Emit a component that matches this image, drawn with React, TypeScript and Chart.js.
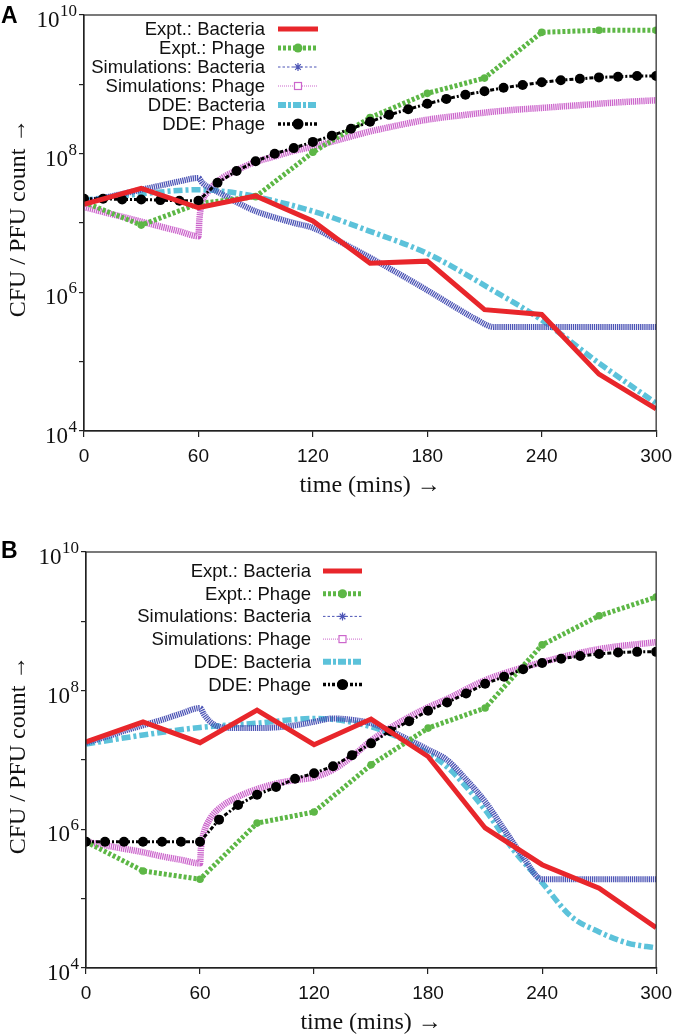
import React, { useEffect, useRef } from 'react';
import { Chart, registerables } from 'chart.js';

Chart.register(...registerables);

// ---------------- data (values are log10 of CFU / PFU count) ----------------
const exptTimes = [0, 30, 60, 90, 120, 150, 180, 210, 240, 270, 300];
const ddePhageTimes = [0, 10, 20, 30, 40, 50, 60, 70, 80, 90, 100, 110, 120, 130, 140, 150, 160, 170, 180, 190, 200, 210, 220, 230, 240, 250, 260, 270, 280, 290, 300];
const xTickValues = [0, 60, 120, 180, 240, 300];
const yTickExponents = [4, 5, 6, 7, 8, 9, 10];
const yLabelExponents = [4, 6, 8, 10];
const seriesLabels = ['Expt.: Bacteria', 'Expt.: Phage', 'Simulations: Bacteria', 'Simulations: Phage', 'DDE: Bacteria', 'DDE: Phage'];
const xTitle = 'time (mins) \u2192';
const yTitle = 'CFU / PFU count \u2192';

// Panel A
const exptBacteriaA = [7.27, 7.5, 7.22, 7.39, 7.03, 6.42, 6.45, 5.75, 5.68, 4.82, 4.32];
const exptPhageA = [7.3, 6.97, 7.28, 7.38, 8.02, 8.52, 8.87, 9.09, 9.75, 9.78, 9.78];
const simBactTimesA = [0, 10, 20, 30, 40, 50, 60, 62, 65, 70, 80, 90, 100, 110, 120, 135, 150, 165, 180, 195, 205, 215, 240, 270, 300];
const simBactA = [7.3, 7.36, 7.42, 7.48, 7.54, 7.6, 7.65, 7.58, 7.52, 7.45, 7.3, 7.17, 7.08, 7.0, 6.93, 6.72, 6.5, 6.27, 6.03, 5.78, 5.62, 5.5, 5.5, 5.5, 5.5];
const simPhageTimesA = [0, 10, 20, 30, 40, 50, 60, 60.5, 62, 65, 70, 80, 90, 100, 110, 120, 135, 150, 165, 180, 200, 220, 240, 260, 280, 300];
const simPhageA = [7.23, 7.16, 7.09, 7.02, 6.95, 6.88, 6.81, 7.05, 7.3, 7.45, 7.6, 7.76, 7.88, 7.96, 8.04, 8.1, 8.21, 8.32, 8.41, 8.49, 8.56, 8.62, 8.66, 8.7, 8.74, 8.77];
const ddeBactTimesA = [0, 30, 60, 75, 90, 120, 150, 180, 210, 240, 270, 300];
const ddeBactA = [7.33, 7.42, 7.48, 7.45, 7.38, 7.17, 6.88, 6.56, 6.1, 5.6, 4.98, 4.4];
const ddePhageA = [7.35, 7.35, 7.34, 7.34, 7.33, 7.32, 7.32, 7.58, 7.75, 7.89, 8.0, 8.08, 8.17, 8.26, 8.36, 8.46, 8.56, 8.64, 8.72, 8.79, 8.85, 8.9, 8.95, 8.99, 9.03, 9.06, 9.08, 9.1, 9.11, 9.12, 9.12];

// Panel B
const exptBacteriaB = [7.26, 7.55, 7.25, 7.72, 7.22, 7.59, 7.05, 6.02, 5.49, 5.15, 4.58];
const exptPhageB = [5.82, 5.4, 5.28, 6.09, 6.25, 6.93, 7.46, 7.75, 8.66, 9.08, 9.35];
const simBactTimesB = [0, 10, 20, 30, 40, 50, 60, 62, 65, 70, 80, 90, 100, 110, 120, 130, 140, 150, 160, 170, 180, 190, 200, 210, 220, 230, 240, 270, 300];
const simBactB = [7.25, 7.33, 7.42, 7.5, 7.58, 7.67, 7.75, 7.66, 7.56, 7.48, 7.46, 7.46, 7.47, 7.5, 7.55, 7.6, 7.58, 7.53, 7.42, 7.29, 7.15, 7.0, 6.72, 6.4, 6.0, 5.6, 5.28, 5.28, 5.28];
const simPhageTimesB = [0, 10, 20, 30, 40, 50, 60, 60.5, 62, 65, 70, 80, 90, 100, 110, 120, 130, 140, 150, 160, 170, 180, 190, 210, 240, 270, 300];
const simPhageB = [5.82, 5.77, 5.72, 5.67, 5.61, 5.56, 5.51, 5.73, 5.95, 6.14, 6.3, 6.47, 6.58, 6.66, 6.71, 6.75, 6.86, 7.05, 7.28, 7.46, 7.62, 7.76, 7.88, 8.15, 8.41, 8.6, 8.7];
const ddeBactTimesB = [0, 30, 60, 90, 120, 150, 170, 190, 210, 225, 240, 255, 270, 285, 300];
const ddeBactB = [7.23, 7.36, 7.47, 7.53, 7.6, 7.48, 7.25, 6.9, 6.28, 5.7, 5.23, 4.75, 4.52, 4.36, 4.29];
const ddePhageB = [5.82, 5.82, 5.82, 5.82, 5.82, 5.82, 5.82, 6.14, 6.35, 6.5, 6.61, 6.73, 6.81, 6.91, 7.07, 7.24, 7.42, 7.56, 7.71, 7.83, 7.96, 8.1, 8.2, 8.31, 8.4, 8.46, 8.5, 8.53, 8.55, 8.56, 8.56];

// ---------------- styles ----------------
const RED = '#e8262b';
const GREEN = '#5db746';
const BLUE = '#4d55b6';
const MAGENTA = '#cc66cc';
const CYAN = '#5cc2da';
const BLACK = '#000000';
const AXIS = '#222222';
const SANS = '"Liberation Sans", Arial, Helvetica, sans-serif';
const SERIF = '"Liberation Serif", "Times New Roman", serif';

type PanelSpec = {
  letter: string;
  canvasH: number;
  top: number;
  left: number;
  right: number;
  xAxisH: number;
  legendRight: number;
  legendY0: number;
  legendDY: number;
  sampleX1: number;
  sampleX2: number;
  letterY: number;
  series: { times: number[]; logs: number[] }[];
};

const panelA: PanelSpec = {
  letter: 'A', canvasH: 518, top: 15, left: 84, right: 19, xAxisH: 87,
  legendRight: 265, legendY0: 29, legendDY: 19, sampleX1: 278, sampleX2: 318, letterY: 23,
  series: [
    { times: exptTimes, logs: exptBacteriaA },
    { times: exptTimes, logs: exptPhageA },
    { times: simBactTimesA, logs: simBactA },
    { times: simPhageTimesA, logs: simPhageA },
    { times: ddeBactTimesA, logs: ddeBactA },
    { times: ddePhageTimes, logs: ddePhageA },
  ],
};

const panelB: PanelSpec = {
  letter: 'B', canvasH: 518, top: 34, left: 86, right: 17, xAxisH: 68,
  legendRight: 311, legendY0: 53, legendDY: 22.7, sampleX1: 323, sampleX2: 362, letterY: 40,
  series: [
    { times: exptTimes, logs: exptBacteriaB },
    { times: exptTimes, logs: exptPhageB },
    { times: simBactTimesB, logs: simBactB },
    { times: simPhageTimesB, logs: simPhageB },
    { times: ddeBactTimesB, logs: ddeBactB },
    { times: ddePhageTimes, logs: ddePhageB },
  ],
};

function toPoints(times: number[], logs: number[]) {
  return times.map((t, i) => ({ x: t, y: Math.pow(10, logs[i]) }));
}

const datasetStyles: any[] = [
  { borderColor: RED, backgroundColor: RED, borderWidth: 5, pointRadius: 0, tension: 0, order: 0 },
  { borderColor: GREEN, backgroundColor: GREEN, borderWidth: 5, borderDash: [3, 2], pointRadius: 3.8, pointStyle: 'circle', pointBorderWidth: 0, tension: 0, order: 2 },
  { borderColor: BLUE, backgroundColor: BLUE, borderWidth: 6, borderDash: [1.3, 0.8], pointRadius: 0, cubicInterpolationMode: 'monotone', order: 3 },
  { borderColor: MAGENTA, backgroundColor: MAGENTA, borderWidth: 6.5, borderDash: [1.3, 0.8], pointRadius: 0, cubicInterpolationMode: 'monotone', order: 5 },
  { borderColor: CYAN, backgroundColor: CYAN, borderWidth: 5.5, borderDash: [9, 3, 3, 3], pointRadius: 0, cubicInterpolationMode: 'monotone', order: 4 },
  { borderColor: BLACK, backgroundColor: BLACK, borderWidth: 3, borderDash: [4, 2, 2, 2], pointRadius: 5, pointStyle: 'circle', pointBorderWidth: 0, tension: 0, order: 1 },
];

function drawLegendSample(ctx: CanvasRenderingContext2D, idx: number, x1: number, x2: number, y: number) {
  const mid = (x1 + x2) / 2;
  ctx.save();
  ctx.lineCap = 'butt';
  const line = (color: string, w: number, dash: number[]) => {
    ctx.strokeStyle = color;
    ctx.lineWidth = w;
    ctx.setLineDash(dash);
    ctx.beginPath();
    ctx.moveTo(x1, y);
    ctx.lineTo(x2, y);
    ctx.stroke();
    ctx.setLineDash([]);
  };
  if (idx === 0) line(RED, 5, []);
  if (idx === 1) {
    line(GREEN, 5, [3, 2]);
    ctx.fillStyle = GREEN;
    ctx.beginPath(); ctx.arc(mid, y, 4.5, 0, Math.PI * 2); ctx.fill();
  }
  if (idx === 2) {
    line(BLUE, 1, [2.5, 2]);
    ctx.strokeStyle = BLUE; ctx.lineWidth = 1.2;
    ctx.beginPath();
    for (let k = 0; k < 4; k++) {
      const a = (k * Math.PI) / 4;
      ctx.moveTo(mid - 4 * Math.cos(a), y - 4 * Math.sin(a));
      ctx.lineTo(mid + 4 * Math.cos(a), y + 4 * Math.sin(a));
    }
    ctx.stroke();
  }
  if (idx === 3) {
    line(MAGENTA, 1, [1, 1]);
    ctx.fillStyle = '#fff';
    ctx.fillRect(mid - 3.5, y - 3.5, 7, 7);
    ctx.strokeStyle = MAGENTA; ctx.lineWidth = 1.2;
    ctx.strokeRect(mid - 3.5, y - 3.5, 7, 7);
  }
  if (idx === 4) line(CYAN, 6, [8, 2, 3, 2]);
  if (idx === 5) {
    line(BLACK, 3.5, [3, 2, 2, 2]);
    ctx.fillStyle = BLACK;
    ctx.beginPath(); ctx.arc(mid, y, 5.5, 0, Math.PI * 2); ctx.fill();
  }
  ctx.restore();
}

function buildConfig(spec: PanelSpec): any {
  const decor = {
    id: 'decor' + spec.letter,
    afterDraw(chart: any) {
      const ctx: CanvasRenderingContext2D = chart.ctx;
      const area = chart.chartArea;
      const yScale = chart.scales.y;
      ctx.save();
      // frame
      ctx.strokeStyle = AXIS;
      ctx.lineWidth = 1.2;
      ctx.strokeRect(area.left, area.top, area.right - area.left, area.bottom - area.top);
      ctx.fillStyle = '#111';
      // y tick labels 10^n
      for (const e of yLabelExponents) {
        const py = yScale.getPixelForValue(Math.pow(10, e));
        const right = area.left - 7;
        ctx.font = `17px ${SERIF}`;
        ctx.textAlign = 'left';
        ctx.textBaseline = 'alphabetic';
        const ew = ctx.measureText(String(e)).width;
        ctx.fillText(String(e), right - ew, py + 1);
        ctx.font = `23px ${SERIF}`;
        ctx.textAlign = 'right';
        ctx.fillText('10', right - ew - 0.5, py + 12);
      }
      // axis titles
      ctx.font = `24px ${SERIF}`;
      ctx.textAlign = 'center';
      ctx.textBaseline = 'middle';
      ctx.fillText(xTitle, (area.left + area.right) / 2, area.bottom + 55);
      ctx.save();
      ctx.translate(25, (area.top + area.bottom) / 2 - 5);
      ctx.rotate(-Math.PI / 2);
      ctx.textBaseline = 'alphabetic';
      ctx.fillText(yTitle, 0, 0);
      ctx.restore();
      // panel letter
      ctx.font = `bold 23px ${SANS}`;
      ctx.textAlign = 'left';
      ctx.textBaseline = 'alphabetic';
      ctx.fillStyle = '#000';
      ctx.fillText(spec.letter, 1, spec.letterY);
      // legend
      ctx.font = `18.5px ${SANS}`;
      ctx.textAlign = 'right';
      ctx.textBaseline = 'middle';
      ctx.fillStyle = '#111';
      seriesLabels.forEach((lab, i) => {
        const y = spec.legendY0 + i * spec.legendDY;
        ctx.fillText(lab, spec.legendRight, y + 1);
        drawLegendSample(ctx, i, spec.sampleX1, spec.sampleX2, y);
      });
      ctx.restore();
    },
  };

  const datasets = spec.series.map((s, i) => ({
    label: seriesLabels[i],
    data: toPoints(s.times, s.logs),
    ...datasetStyles[i],
    pointBackgroundColor: datasetStyles[i].borderColor,
    fill: false,
  }));

  return {
    type: 'line',
    data: { datasets },
    options: {
      responsive: false,
      animation: false,
      devicePixelRatio: 1,
      parsing: true,
      layout: { padding: { top: spec.top, right: spec.right, left: 0, bottom: 0 } },
      plugins: { legend: { display: false }, tooltip: { enabled: false }, title: { display: false } },
      scales: {
        x: {
          type: 'linear',
          min: 0,
          max: 300,
          afterBuildTicks: (s: any) => { s.ticks = xTickValues.map((v) => ({ value: v })); },
          afterFit: (s: any) => { s.height = spec.xAxisH; },
          grid: { drawOnChartArea: false, drawTicks: true, tickLength: 6, color: AXIS, lineWidth: 1.2 },
          border: { color: AXIS, width: 1.2 },
          ticks: { font: { family: SANS, size: 19 }, color: '#111', padding: 8, maxRotation: 0, autoSkip: false },
        },
        y: {
          type: 'logarithmic',
          min: 1e4,
          max: 1e10,
          afterBuildTicks: (s: any) => { s.ticks = yTickExponents.map((e) => ({ value: Math.pow(10, e) })); },
          afterFit: (s: any) => { s.width = spec.left; },
          grid: { drawOnChartArea: false, drawTicks: true, tickLength: 5, color: AXIS, lineWidth: 1.2 },
          border: { color: AXIS, width: 1.2 },
          ticks: { display: false },
        },
      },
    },
    plugins: [decor],
  };
}

function Panel({ spec }: { spec: PanelSpec }) {
  const ref = useRef<HTMLCanvasElement>(null);
  useEffect(() => {
    const chart = new Chart(ref.current as HTMLCanvasElement, buildConfig(spec));
    return () => chart.destroy();
  }, [spec]);
  return <canvas ref={ref} width={680} height={spec.canvasH} style={{ display: 'block', width: 680, height: spec.canvasH }} />;
}

export default function App() {
  return (
    <div style={{ position: 'absolute', left: 0, top: 0, width: 680, height: 1036, background: '#ffffff' }}>
      <Panel spec={panelA} />
      <Panel spec={panelB} />
    </div>
  );
}
